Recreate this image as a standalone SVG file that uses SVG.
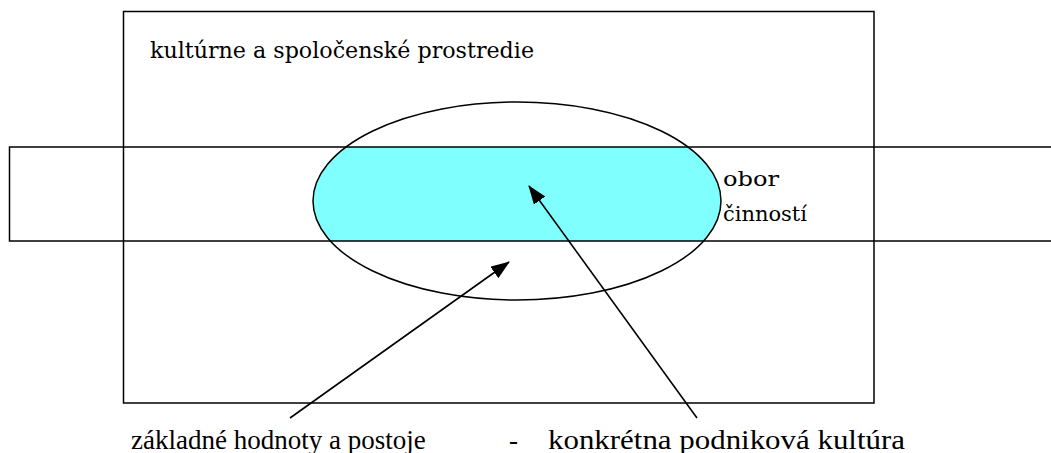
<svg xmlns="http://www.w3.org/2000/svg" width="1051" height="453" viewBox="0 0 1051 453">
<style>
.ln{fill:none;stroke:#000;stroke-width:1.5}
.ar{stroke:#000;stroke-width:1.6;fill:none}
</style>
<defs>
<clipPath id="band"><rect x="9" y="147" width="1050" height="94"/></clipPath>
<marker id="ah" markerWidth="19" markerHeight="14" refX="18" refY="7" orient="auto" markerUnits="userSpaceOnUse">
<path d="M0,0 L19,7 L0,14 Z" fill="#000"/>
</marker>
</defs>
<rect width="1051" height="453" fill="#fff"/>
<g id="environment">
<rect class="ln" x="123.5" y="11.5" width="750.5" height="391.5"/>
<text font-family="DejaVu Serif" x="150" y="58" font-size="22" textLength="384" lengthAdjust="spacingAndGlyphs">kultúrne a spoločenské prostredie</text>
</g>
<g id="culture">
<ellipse cx="517" cy="201" rx="204" ry="99" fill="#80ffff" clip-path="url(#band)"/>
<ellipse class="ln" cx="517" cy="201" rx="204" ry="99" stroke-width="1.3"/>
</g>
<g id="field">
<rect class="ln" x="9.5" y="147" width="1050" height="94"/>
<text font-family="DejaVu Serif" x="723" y="186" font-size="21" textLength="56" lengthAdjust="spacingAndGlyphs">obor</text>
<text font-family="DejaVu Serif" x="723" y="221" font-size="21" textLength="84" lengthAdjust="spacingAndGlyphs">činností</text>
</g>
<g id="connectors">
<line class="ar" x1="290" y1="418" x2="509" y2="262" marker-end="url(#ah)"/>
<line class="ar" x1="697" y1="418" x2="529" y2="186" marker-end="url(#ah)"/>
</g>
<g id="labels" font-family="Liberation Serif" font-size="27">
<text x="131" y="449">základné hodnoty a postoje</text>
<text x="509" y="449">-</text>
<text x="548" y="449" textLength="357" lengthAdjust="spacingAndGlyphs">konkrétna podniková kultúra</text>
</g>
</svg>
